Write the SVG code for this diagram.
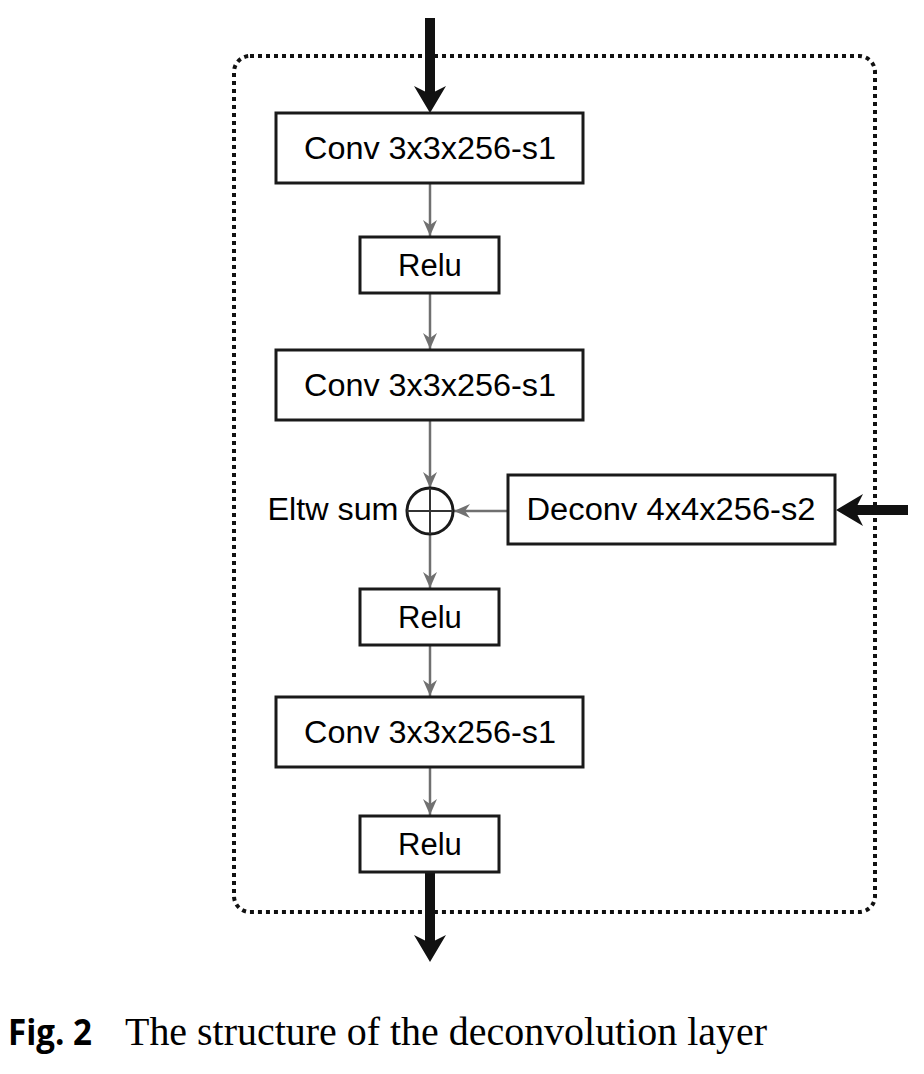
<svg xmlns="http://www.w3.org/2000/svg" width="924" height="1074" viewBox="0 0 924 1074">
<style>
.box{fill:#fff;stroke:#1a1a1a;stroke-width:3}
.lbl{font-family:"Liberation Sans",Arial,sans-serif;font-size:31px;fill:#000;text-anchor:middle}
.thin{stroke:#707070;stroke-width:2.5;fill:none}
.thick{stroke:#111;stroke-width:10;fill:none}
</style>
<defs>
<marker id="ga" markerUnits="userSpaceOnUse" markerWidth="20" markerHeight="20" refX="16" refY="8" orient="auto">
<path d="M0,1 L16,8 L0,15 L5,8 Z" fill="#707070"/>
</marker>
<marker id="ba" markerUnits="userSpaceOnUse" markerWidth="40" markerHeight="40" refX="8" refY="16" orient="auto">
<path d="M0,0 L27,16 L0,32 L8,16 Z" fill="#111"/>
</marker>
</defs>
<rect x="234" y="56" width="641" height="856" rx="16" fill="none" stroke="#111" stroke-width="4" stroke-dasharray="4 4"/>
<g id="connectors">
<line class="thick" x1="430" y1="18" x2="430" y2="94" marker-end="url(#ba)"/>
<line class="thin" x1="430" y1="183" x2="430" y2="236" marker-end="url(#ga)"/>
<line class="thin" x1="430" y1="293" x2="430" y2="349" marker-end="url(#ga)"/>
<line class="thin" x1="430" y1="420" x2="430" y2="488" marker-end="url(#ga)"/>
<line class="thin" x1="508" y1="511" x2="454" y2="511" marker-end="url(#ga)"/>
<line class="thin" x1="430" y1="535" x2="430" y2="588" marker-end="url(#ga)"/>
<line class="thin" x1="430" y1="645" x2="430" y2="696" marker-end="url(#ga)"/>
<line class="thin" x1="430" y1="767" x2="430" y2="815" marker-end="url(#ga)"/>
<line class="thick" x1="430" y1="872" x2="430" y2="943" marker-end="url(#ba)"/>
<line class="thick" x1="908" y1="510" x2="855" y2="510" marker-end="url(#ba)"/>
</g>
<g id="conv1"><rect class="box" x="276" y="113" width="307" height="70"/><text class="lbl" x="430" y="159" textLength="252" lengthAdjust="spacingAndGlyphs">Conv 3x3x256-s1</text></g>
<g id="relu1"><rect class="box" x="360" y="237" width="139" height="56"/><text class="lbl" x="430" y="276">Relu</text></g>
<g id="conv2"><rect class="box" x="276" y="350" width="307" height="70"/><text class="lbl" x="430" y="396" textLength="252" lengthAdjust="spacingAndGlyphs">Conv 3x3x256-s1</text></g>
<g id="sum"><circle cx="430" cy="511" r="23" fill="#fff" stroke="#1a1a1a" stroke-width="3"/><line x1="407" y1="511" x2="453" y2="511" stroke="#333" stroke-width="2"/><line x1="430" y1="488" x2="430" y2="534" stroke="#333" stroke-width="2"/><text class="lbl" x="333" y="520" textLength="131" lengthAdjust="spacingAndGlyphs">Eltw sum</text></g>
<g id="deconv"><rect class="box" x="508" y="475" width="327" height="69"/><text class="lbl" x="671" y="520" textLength="289" lengthAdjust="spacingAndGlyphs">Deconv 4x4x256-s2</text></g>
<g id="relu2"><rect class="box" x="360" y="589" width="139" height="56"/><text class="lbl" x="430" y="628">Relu</text></g>
<g id="conv3"><rect class="box" x="276" y="697" width="307" height="70"/><text class="lbl" x="430" y="743" textLength="252" lengthAdjust="spacingAndGlyphs">Conv 3x3x256-s1</text></g>
<g id="relu3"><rect class="box" x="360" y="816" width="139" height="56"/><text class="lbl" x="430" y="855">Relu</text></g>
<g id="caption">
<text x="8" y="1045" font-family="'Open Sans','Liberation Sans',sans-serif" font-weight="bold" font-size="36" textLength="84" lengthAdjust="spacingAndGlyphs">Fig. 2</text>
<text x="125" y="1045" font-family="'Liberation Serif','Times New Roman',serif" font-size="40" textLength="642" lengthAdjust="spacingAndGlyphs">The structure of the deconvolution layer</text>
</g>
</svg>
